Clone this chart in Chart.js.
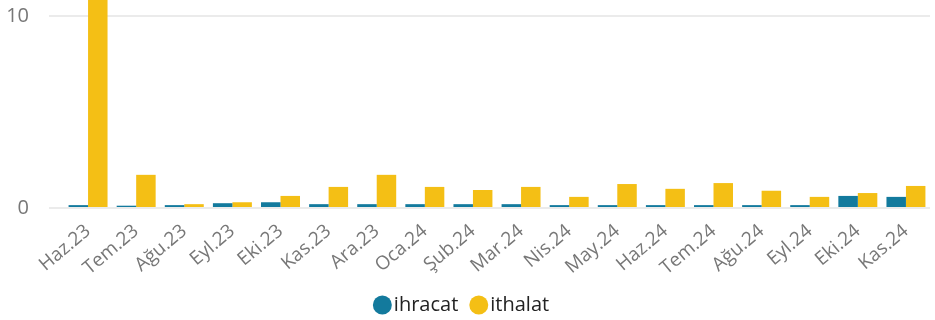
<!DOCTYPE html>
<html>
<head>
<meta charset="utf-8">
<script src="https://cdn.jsdelivr.net/npm/chart.js@4"></script>
<style>
  html, body { margin: 0; padding: 0; background: #fff; }
</style>
</head>
<body>
<canvas id="tradeChart" width="935" height="320"></canvas>
<script>
const months = ['Haz.23', 'Tem.23', 'Ağu.23', 'Eyl.23', 'Eki.23', 'Kas.23', 'Ara.23', 'Oca.24', 'Şub.24',
  'Mar.24', 'Nis.24', 'May.24', 'Haz.24', 'Tem.24', 'Ağu.24', 'Eyl.24', 'Eki.24', 'Kas.24'];
const ihracat = [0.15, 0.12, 0.15, 0.25, 0.3, 0.2, 0.2, 0.2, 0.2, 0.2, 0.15, 0.15, 0.15, 0.15, 0.15, 0.15, 0.63, 0.58];
const ithalat = [12.4, 1.73, 0.2, 0.3, 0.63, 1.1, 1.73, 1.1, 0.94, 1.1, 0.58, 1.25, 1.0, 1.3, 0.9, 0.58, 0.78, 1.15];
const yTicks = [0, 10];

const config = {
  type: 'bar',
  data: {
    labels: months,
    datasets: [
      { label: 'ihracat', data: ihracat, backgroundColor: '#137a9d' },
      { label: 'ithalat', data: ithalat, backgroundColor: '#f4bf15' },
    ],
  },
  options: {
    responsive: false,
    animation: false,
    datasets: {
      bar: { categoryPercentage: 0.81, barPercentage: 1.0 },
    },
    layout: { autoPadding: false, padding: { top: 0, right: 5, bottom: -5, left: 0 } },
    scales: {
      x: {
        grid: { display: false },
        border: { display: false },
        afterFit: (scale) => {
          scale.paddingTop = 0;
          scale.height = 68;
        },
        ticks: {
          color: '#777',
          font: { family: 'Open Sans', size: 19 },
          minRotation: 40,
          maxRotation: 40,
          padding: 4,
          autoSkip: false,
        },
      },
      y: {
        min: 0,
        max: 10.85,
        afterBuildTicks: (axis) => {
          axis.ticks = yTicks.map((v) => ({ value: v }));
        },
        afterFit: (scale) => {
          scale.width = 64;
          scale.paddingTop = 0;
          scale.paddingBottom = 0;
        },
        border: { display: false },
        grid: { color: '#ebebeb', lineWidth: 2, tickLength: 15 },
        ticks: {
          color: '#777',
          font: { family: 'Open Sans', size: 20 },
          padding: 20,
        },
      },
    },
    plugins: {
      tooltip: { enabled: false },
      legend: {
        position: 'bottom',
        labels: {
          usePointStyle: true,
          pointStyle: 'circle',
          boxWidth: 3,
          boxHeight: 13.4,
          padding: 19,
          color: '#222',
          font: { family: 'Open Sans', size: 20 },
        },
      },
    },
  },
};

new Chart(document.getElementById('tradeChart'), config);
</script>
</body>
</html>
